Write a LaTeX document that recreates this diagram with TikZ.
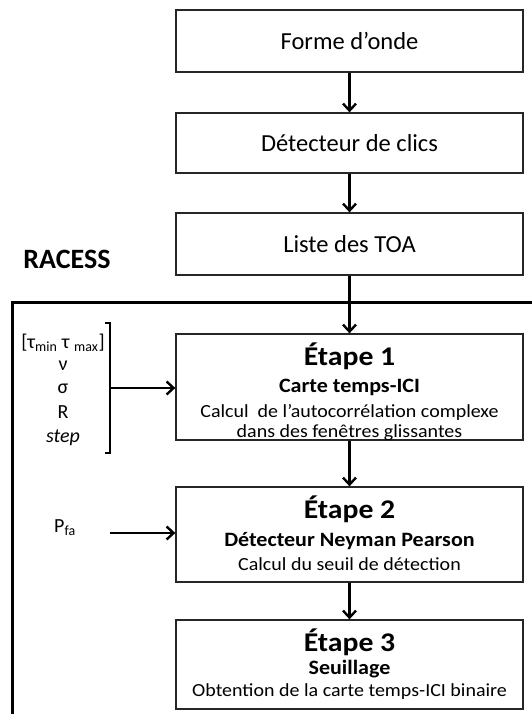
\documentclass[tikz,border=0pt]{standalone}
\usepackage{fontspec}
\setmainfont{Carlito}
\newfontfamily\widefam[FakeStretch=1.1]{Carlito}
\newfontfamily\semiwidefam[FakeStretch=1.08]{Carlito}
\usetikzlibrary{arrows.meta}
\begin{document}
\begin{tikzpicture}[x=1pt,y=-1pt,
  box/.style={draw=black!85, line width=1.3pt, minimum width=347pt, inner sep=0pt, align=center, fill=white},
  lbl/.style={inner sep=0pt, anchor=base},
  conn/.style={line width=2.4pt, -{Straight Barb[length=7pt,width=13pt]}},
  topfont/.style={font=\fontsize{24.5}{28}\selectfont},
  stepfont/.style={font=\widefam\fontsize{27}{31}\selectfont\bfseries},
  subfont/.style={font=\semiwidefam\fontsize{20.4}{24}\selectfont\bfseries},
  bodyfont/.style={font=\semiwidefam\fontsize{18.5}{22}\selectfont},
  parfont/.style={font=\fontsize{20}{24}\selectfont}]
\useasboundingbox (0,0) rectangle (532,714);

% frame
\draw[line width=3pt] (12,715) -- (12,302) -- (533,302);
\node[lbl, font=\fontsize{28}{32}\selectfont\bfseries] (racess) at (67,268) {RACESS};

% top boxes
\node[box, topfont, minimum height=62pt] (forme) at (349.5,41) {Forme d’onde};
\node[box, topfont, minimum height=60pt] (clics) at (349.5,143) {Détecteur de clics};
\node[box, topfont, minimum height=62pt] (toa) at (349.5,244) {Liste des TOA};

% steps
\node[box, minimum height=106pt] (e1) at (349.5,387) {};
\node[box, minimum height=95pt] (e2) at (349.5,534.5) {};
\node[box, minimum height=89pt] (e3) at (349.5,664.5) {};

\node[lbl, stepfont] (e1a) at (349.5,365) {Étape 1};
\node[lbl, subfont] (e1b) at (349.5,392) {Carte temps-ICI};
\node[lbl, bodyfont] (e1c) at (349.5,417) {Calcul\ \ de l’autocorrélation complexe};
\node[lbl, bodyfont] (e1d) at (349.5,437) {dans des fenêtres glissantes};

\node[lbl, stepfont] (e2a) at (349.5,518) {Étape 2};
\node[lbl, subfont] (e2b) at (349.5,546) {Détecteur Neyman Pearson};
\node[lbl, bodyfont] (e2c) at (349.5,570) {Calcul du seuil de détection};

\node[lbl, stepfont] (e3a) at (349.5,651) {Étape 3};
\node[lbl, subfont] (e3b) at (349.5,674) {Seuillage};
\node[lbl, bodyfont] (e3c) at (349.5,696) {Obtention de la carte temps-ICI binaire};

% connectors
\draw[conn] (forme) -- (clics);
\draw[conn] (clics) -- (toa);
\draw[conn] (toa) -- (e1);
\draw[conn] (e1) -- (e2);
\draw[conn] (e2) -- (e3);

% parameters
\node[lbl, parfont] (p1) at (63,348) {[τ\textsubscript{min} τ \textsubscript{max}]};
\node[lbl, parfont] (p2) at (63,370) {ν};
\node[lbl, parfont] (p3) at (63,393) {σ};
\node[lbl, parfont] (p4) at (63,418) {R};
\node[lbl, parfont] (p5) at (63,442) {\textit{step}};
\draw[line width=2pt] (105,323) -- (110,323) -- (110,453) -- (105,453);
\coordinate (br) at (110,388);
\draw[conn] (br) -- (br -| e1.west);

\node[lbl, parfont] (pfa) at (65,532) {P\textsubscript{fa}};
\coordinate (pf) at (110,533);
\draw[conn] (pf) -- (pf -| e2.west);
\end{tikzpicture}
\end{document}
